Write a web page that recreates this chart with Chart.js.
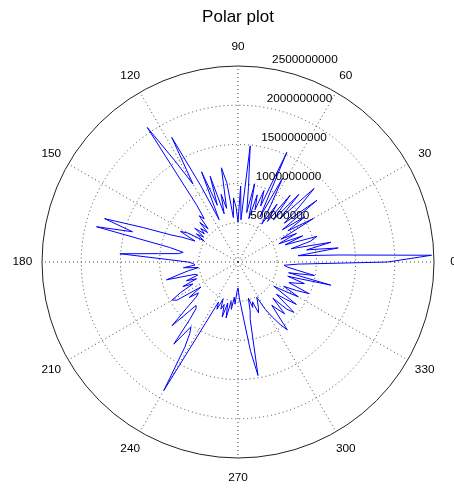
<!DOCTYPE html>
<html>
<head>
<meta charset="utf-8">
<script src="https://cdn.jsdelivr.net/npm/chart.js@4/dist/chart.umd.min.js"></script>
<style>
    html, body { margin: 0; padding: 0; background: #fff; }
    canvas { display: block; }
</style>
</head>
<body>
<canvas id="polarChart" width="454" height="489"></canvas>
<script>
// angle in degrees (counter-clockwise from east), radius value
const angles = [
    0, 2, 4, 6, 8, 10, 12, 14, 16, 18, 20, 22, 24, 26, 28,
    30, 32, 34, 36, 38, 40, 42, 44, 46, 48, 50, 52, 54, 56, 58,
    60, 62, 64, 66, 68, 70, 72, 74, 76, 78, 80, 82, 84, 86, 88,
    90, 92, 94, 96, 98, 100, 102, 104, 106, 108, 110, 112, 114, 116, 118,
    120, 122, 124, 126, 128, 130, 132, 134, 136, 138, 140, 142, 144, 146, 148,
    150, 152, 154, 156, 158, 160, 162, 164, 166, 168, 170, 172, 174, 176, 178,
    180, 182, 184, 186, 188, 190, 192, 194, 196, 198, 200, 202, 204, 206, 208,
    210, 212, 214, 216, 218, 220, 222, 224, 226, 228, 230, 232, 234, 236, 238,
    240, 242, 244, 246, 248, 250, 252, 254, 256, 258, 260, 262, 264, 266, 268,
    270, 272, 274, 276, 278, 280, 282, 284, 286, 288, 290, 292, 294, 296, 298,
    300, 302, 304, 306, 308, 310, 312, 314, 316, 318, 320, 322, 324, 326, 328,
    330, 332, 334, 336, 338, 340, 342, 344, 346, 348, 350, 352, 354, 356, 358,
];
const rho = [
    1.91e9, 2.47e9, 1.28e9, 0.77e9, 1.29e9, 0.89e9, 1.21e9, 0.70e9, 0.96e9, 1.06e9, 0.64e9, 0.89e9, 0.57e9, 0.83e9, 0.62e9,
    1.11e9, 0.75e9, 1.03e9, 0.70e9, 1.28e9, 0.77e9, 1.05e9, 1.35e9, 0.77e9, 1.16e9, 0.70e9, 1.08e9, 0.64e9, 0.89e9, 0.57e9,
    0.83e9, 1.21e9, 0.64e9, 1.53e9, 0.77e9, 0.97e9, 0.70e9, 0.89e9, 0.57e9, 1.02e9, 0.64e9, 0.96e9, 1.49e9, 0.54e9, 0.97e9,
    0.51e9, 0.70e9, 0.82e9, 0.57e9, 1.02e9, 1.22e9, 0.70e9, 0.89e9, 0.64e9, 1.15e9, 0.77e9, 1.24e9, 0.59e9, 1.08e9, 1.80e9,
    1.15e9, 1.53e9, 2.07e9, 0.89e9, 0.70e9, 0.77e9, 0.57e9, 0.70e9, 0.54e9, 0.64e9, 0.56e9, 0.70e9, 0.54e9, 0.64e9, 0.51e9,
    0.74e9, 0.83e9, 0.61e9, 0.77e9, 0.92e9, 1.28e9, 1.79e9, 1.40e9, 1.86e9, 0.89e9, 0.71e9, 0.77e9, 1.02e9, 1.51e9, 0.89e9,
    0.64e9, 0.57e9, 0.55e9, 0.70e9, 0.51e9, 0.64e9, 0.77e9, 0.94e9, 0.57e9, 0.54e9, 0.70e9, 0.57e9, 0.77e9, 0.64e9, 0.83e9,
    0.97e9, 0.92e9, 0.57e9, 0.77e9, 0.64e9, 0.70e9, 0.89e9, 1.17e9, 0.77e9, 0.80e9, 0.96e9, 1.33e9, 1.02e9, 1.10e9, 1.28e9,
    1.89e9, 0.89e9, 0.57e9, 0.66e9, 0.51e9, 0.64e9, 0.57e9, 0.73e9, 0.54e9, 0.73e9, 0.51e9, 0.61e9, 0.45e9, 0.54e9, 0.38e9,
    0.33e9, 0.45e9, 0.57e9, 0.77e9, 1.15e9, 1.47e9, 0.75e9, 0.64e9, 0.48e9, 0.61e9, 0.54e9, 0.70e9, 0.64e9, 0.57e9, 0.51e9,
    0.70e9, 0.83e9, 0.96e9, 1.07e9, 0.70e9, 0.79e9, 0.89e9, 0.64e9, 0.87e9, 0.96e9, 0.64e9, 0.77e9, 0.92e9, 0.55e9, 0.70e9,
    0.89e9, 0.66e9, 0.83e9, 0.99e9, 0.70e9, 0.79e9, 0.89e9, 0.66e9, 1.22e9, 0.66e9, 0.99e9, 0.77e9, 0.64e9, 0.59e9, 0.77e9,
];
const angleTicks = [0, 30, 60, 90, 120, 150, 180, 210, 240, 270, 300, 330];
const radiusTicks = [500000000, 1000000000, 1500000000, 2000000000, 2500000000];

const rMax = 2500000000;
const rStep = 500000000;
const textFont = "11.8px 'Liberation Sans', Arial, sans-serif";

// radar goes clockwise, so walk the angles backwards starting at east
const radarLabels = angles.map((a, i) => angles[(angles.length - i) % angles.length]);
const radarData = rho.map((r, i) => rho[(rho.length - i) % rho.length]);

const polarText = {
    id: "polarText",
    afterDraw(chart) {
        const scale = chart.scales.r;
        const ctx = chart.ctx;
        const cx = scale.xCenter;
        const cy = scale.yCenter;
        ctx.save();
        ctx.font = textFont;
        ctx.fillStyle = "#000";

        // angle labels at 1.1 * outer radius
        ctx.textAlign = "center";
        ctx.textBaseline = "middle";
        angleTicks.forEach((a) => {
            const idx = radarLabels.indexOf(a);
            const pos = scale.getPointPosition(idx, scale.drawingArea * 1.1);
            ctx.fillText(String(a), pos.x, pos.y);
        });

        // radius labels along 82 degrees
        ctx.textAlign = "left";
        ctx.textBaseline = "bottom";
        const t = 82 * Math.PI / 180;
        radiusTicks.forEach((v) => {
            const d = scale.getDistanceFromCenterForValue(v + rStep / 20);
            ctx.fillText("  " + v, cx + d * Math.cos(t), cy - d * Math.sin(t));
        });
        ctx.restore();
    },
};

new Chart(document.getElementById("polarChart"), {
    type: "radar",
    data: {
        labels: radarLabels,
        datasets: [
            {
                data: radarData,
                borderColor: "#0000FF",
                borderWidth: 1,
                pointRadius: 0,
                fill: false,
                tension: 0,
            },
        ],
    },
    options: {
        responsive: false,
        animation: false,
        layout: {
            padding: { left: 42, right: 20, top: 0, bottom: 31 },
        },
        plugins: {
            legend: { display: false },
            tooltip: { enabled: false },
            title: {
                display: true,
                text: "Polar plot",
                color: "#000",
                font: { family: "'Liberation Sans', Arial, sans-serif", size: 17, weight: "normal", lineHeight: 1.2 },
                padding: { top: 7, bottom: 38.6 },
            },
        },
        scales: {
            r: {
                min: 0,
                max: rMax,
                startAngle: 90,
                ticks: { display: false, stepSize: rStep },
                pointLabels: { display: false },
                grid: {
                    circular: true,
                    color: (c) => (c.tick && c.tick.value === rMax ? "#222" : "#444"),
                    lineWidth: 1,
                },
                border: {
                    dash: (c) => (c.tick && c.tick.value === rMax ? [] : [1, 3]),
                },
                angleLines: {
                    color: (c) => (radarLabels[c.index] % 30 === 0 ? "#444" : "transparent"),
                    lineWidth: 1,
                    borderDash: [1, 3],
                },
            },
        },
    },
    plugins: [polarText],
});
</script>
</body>
</html>
